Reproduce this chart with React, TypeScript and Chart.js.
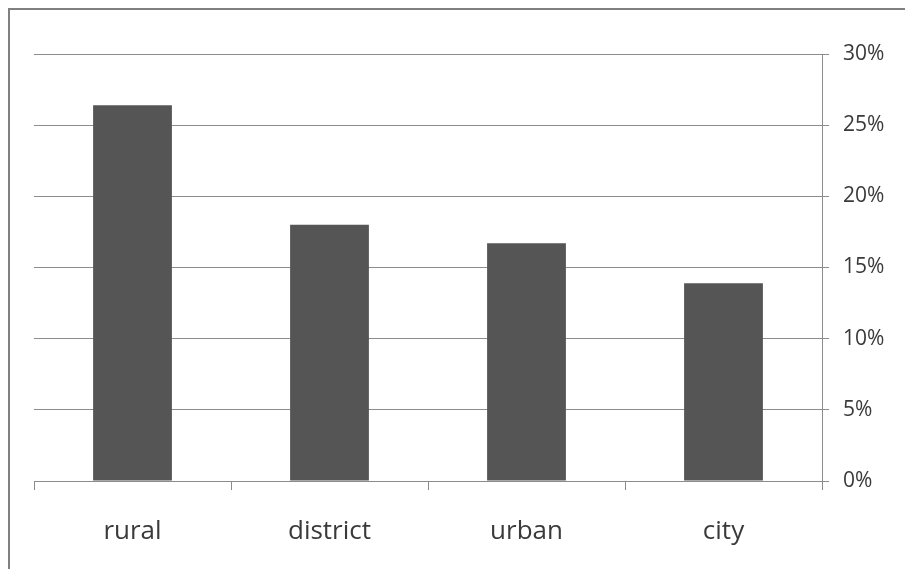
import React, { useEffect, useRef } from "react";
import { Chart, registerables } from "chart.js";

Chart.register(...registerables);

// Share of respondents by settlement type
const categories = ["rural", "district", "urban", "city"];
const shares = [26.4, 18.0, 16.7, 13.9];
const tickValues = [0, 5, 10, 15, 20, 25, 30];

const GRID = "#8c8c8c";
const TEXT = "#3a3a3a";
const BAR = "#555555";

export default function App() {
  const canvasRef = useRef<HTMLCanvasElement | null>(null);

  useEffect(() => {
    const canvas = canvasRef.current;
    if (!canvas) return;
    const chart = new Chart(canvas, {
      type: "bar",
      data: {
        labels: categories,
        datasets: [
          {
            data: shares,
            backgroundColor: BAR,
            borderWidth: 0,
            barPercentage: 1,
            categoryPercentage: 0.4,
          },
        ],
      },
      options: {
        animation: false,
        responsive: true,
        maintainAspectRatio: false,
        layout: { padding: { top: 44, left: 24, right: 0, bottom: 0 } },
        plugins: {
          legend: { display: false },
          tooltip: { enabled: false },
        },
        scales: {
          x: {
            grid: {
              display: true,
              offset: true,
              drawOnChartArea: false,
              drawTicks: true,
              tickLength: 9,
              color: GRID,
            },
            border: { display: true, color: GRID, width: 1 },
            ticks: {
              color: TEXT,
              font: { family: "'Open Sans', sans-serif", size: 26 },
              padding: 26,
              maxRotation: 0,
            },
            afterFit: (scale: any) => {
              scale.height = 88;
            },
          },
          y: {
            position: "right",
            min: 0,
            max: 30,
            afterBuildTicks: (scale: any) => {
              scale.ticks = tickValues.map((v) => ({ value: v }));
            },
            grid: {
              color: GRID,
              lineWidth: 1,
              drawTicks: true,
              tickLength: 7,
            },
            border: { display: true, color: GRID, width: 1 },
            ticks: {
              color: TEXT,
              font: { family: "'Open Sans', sans-serif", size: 21 },
              padding: 14,
              callback: (v: any) => `${v}%`,
            },
            afterFit: (scale: any) => {
              scale.width = 83;
            },
          },
        },
      },
    });
    return () => chart.destroy();
  }, []);

  return (
    <div
      style={{
        position: "fixed",
        left: 8,
        top: 8,
        right: 0,
        bottom: 0,
        borderLeft: "2px solid #808080",
        borderTop: "2px solid #808080",
        background: "#fff",
      }}
    >
      <div style={{ position: "absolute", inset: 0 }}>
        <canvas ref={canvasRef} />
      </div>
    </div>
  );
}
